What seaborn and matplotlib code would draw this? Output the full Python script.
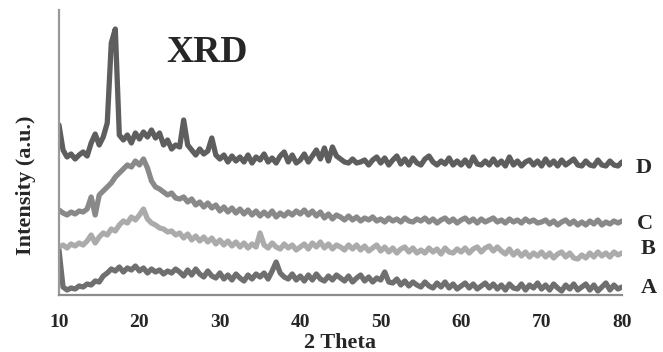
import numpy as np
import pandas as pd
import seaborn as sns
import matplotlib
matplotlib.use("Agg")
import matplotlib.pyplot as plt

# 2 theta grid (degrees), one reading every 0.5
two_theta = np.arange(10, 80.5, 0.5)

# intensities (a.u.)
int_D = [170, 145, 138, 141, 136, 140, 143, 139, 152, 161,
         150, 158, 172, 252, 266, 160, 155, 160, 152, 162,
         156, 163, 158, 165, 157, 162, 150, 155, 146, 150,
         148, 175, 150, 145, 140, 146, 141, 144, 157, 140,
         136, 140, 133, 139, 134, 138, 133, 140, 132, 138,
         135, 141, 133, 137, 132, 139, 143, 133, 140, 132,
         135, 141, 133, 139, 145, 136, 147, 134, 148, 139,
         136, 133, 132, 136, 132, 133, 135, 130, 135, 138,
         132, 137, 130, 135, 139, 131, 136, 130, 137, 132,
         130, 136, 139, 133, 130, 134, 131, 137, 130, 134,
         130, 135, 129, 138, 131, 130, 134, 130, 136, 130,
         134, 129, 138, 130, 134, 129, 133, 135, 130, 134,
         129, 136, 130, 134, 129, 135, 130, 133, 136, 130,
         129, 134, 130, 129, 135, 130, 129, 134, 130, 129,
         133]

int_C = [85, 82, 80, 83, 81, 84, 83, 86, 98, 80,
         100, 104, 108, 112, 118, 122, 126, 130, 128, 134,
         130, 136, 127, 114, 108, 106, 103, 100, 102, 97,
         96, 98, 93, 96, 90, 93, 88, 92, 87, 90,
         84, 88, 83, 87, 82, 86, 81, 85, 80, 84,
         79, 83, 79, 84, 78, 82, 79, 83, 80, 84,
         81, 85, 80, 84, 79, 83, 77, 81, 76, 80,
         78, 75, 79, 75, 78, 74, 77, 75, 78, 74,
         76, 73, 77, 74, 76, 73, 77, 74, 73, 76,
         74, 77, 73, 76, 72, 75, 77, 73, 76, 72,
         75, 77, 73, 76, 72, 76, 73, 75, 77, 73,
         75, 72, 76, 73, 75, 72, 76, 73, 75, 72,
         73, 75, 71, 74, 70, 73, 75, 71, 74, 70,
         73, 70, 74, 71, 75, 70, 73, 71, 74, 72,
         74]

int_B = [48, 50, 47, 51, 49, 52, 50, 54, 60, 52,
         58, 62, 60, 66, 64, 70, 74, 72, 78, 75,
         80, 86, 76, 72, 70, 67, 66, 63, 64, 60,
         62, 57, 61, 55, 59, 54, 58, 53, 57, 51,
         55, 50, 54, 49, 53, 48, 52, 47, 51, 48,
         62, 50, 47, 52, 48, 46, 51, 47, 50, 45,
         48, 51, 46, 52, 48, 53, 47, 51, 46, 50,
         48, 45, 50, 46, 50, 45, 49, 44, 47, 50,
         44, 48, 43, 47, 42, 46, 48, 43, 47, 42,
         45, 42, 47, 43, 46, 41, 47, 43, 42, 46,
         43, 47, 42, 46, 48, 43, 47, 49, 44, 48,
         44, 41, 46, 40, 44, 39, 43, 38, 42, 39,
         43, 38, 42, 37, 41, 43, 38, 42, 37, 36,
         40, 37, 42, 38, 43, 39, 42, 38, 43, 40,
         42]

int_A = [45, 8, 5, 7, 6, 9, 8, 11, 10, 14,
         13, 19, 22, 26, 24, 28, 23, 27, 25, 29,
         24, 27, 22, 26, 23, 25, 21, 24, 22, 26,
         23, 19, 25, 20, 26, 21, 18, 24, 19, 17,
         22, 16, 20, 15, 21, 17, 14, 20, 16, 21,
         18, 22, 16, 24, 33, 22, 18, 16, 21, 15,
         19, 14, 20, 15, 21, 16, 14, 19, 15, 20,
         17, 14, 19, 13, 17, 20, 14, 18, 13, 17,
         15, 23, 13, 12, 16, 10, 14, 9, 13, 10,
         8, 13, 9, 7, 12, 8, 13, 7, 11, 6,
         9, 12, 7, 11, 6, 9, 12, 7, 11, 6,
         10, 5, 11, 7, 6, 11, 5, 10, 7, 12,
         6, 10, 5, 11, 7, 4, 10, 6, 11, 5,
         8, 11, 5, 10, 4, 8, 12, 5, 10, 6,
         8]

samples = ["A", "B", "C", "D"]
# where the sample letters sit at the right end
label_y = [7, 46, 71, 127]
label_x = [82.3, 82.3, 81.8, 81.7]

colores = {"A": "#6f6f6f", "B": "#ababab", "C": "#898989", "D": "#5e5e5e"}

df = pd.concat([
    pd.DataFrame({"2theta": two_theta, "I": vals, "sample": s})
    for s, vals in zip(samples, [int_A, int_B, int_C, int_D])
])

sns.set_theme(style="white")
plt.rcParams["font.family"] = ["Liberation Serif", "DejaVu Serif"]
plt.rcParams["font.weight"] = "bold"

fig = plt.figure(figsize=(6.63, 3.52), dpi=100)
ax = fig.add_axes([59 / 663, 1 - 295 / 352, (622 - 59) / 663, 285 / 352])

sns.lineplot(data=df, x="2theta", y="I", hue="sample", palette=colores,
             linewidth=3.8, legend=False, ax=ax, estimator=None, sort=False,
             solid_joinstyle="round", solid_capstyle="round")

ax.set_xlim(10, 80)
ax.set_ylim(0, 285)
ax.set_xticks([10, 20, 30, 40, 50, 60, 70, 80])
ax.set_yticks([])
ax.set_xlabel("")
ax.set_ylabel("")
ax.tick_params(axis="x", length=0, pad=14, labelsize=14)
for lbl in ax.get_xticklabels():
    lbl.set_fontweight("bold")

for side in ["top", "right"]:
    ax.spines[side].set_visible(False)
ax.spines["left"].set_color("#999999")
ax.spines["bottom"].set_color("#8c8c8c")
ax.spines["left"].set_linewidth(1.6)
ax.spines["bottom"].set_linewidth(1.6)

for s, lx, ly in zip(samples, label_x, label_y):
    ax.text(lx, ly, s, fontsize=16, fontweight="bold", va="center",
            ha="left", clip_on=False)

ax.text(28.4, 243, "XRD", fontsize=27, fontweight="bold", ha="center",
        va="center")

fig.text(26 / 663, 1 - 185 / 352, "Intensity (a.u.)", rotation=90,
         fontsize=16, fontweight="bold", ha="center", va="center")
fig.text(340 / 663, 1 - 343 / 352, "2 Theta", fontsize=16,
         fontweight="bold", ha="center", va="center")

fig.savefig("out.png", dpi=100)
